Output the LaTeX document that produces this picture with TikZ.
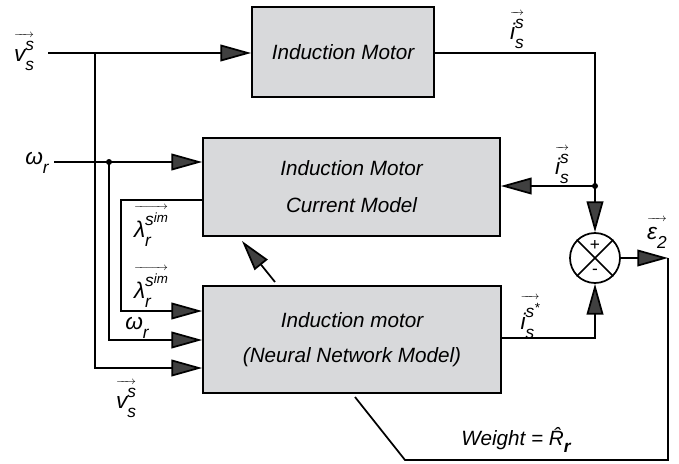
\documentclass[tikz,border=0pt]{standalone}
\usepackage{fontspec}
\setmainfont{Liberation Sans}
\usetikzlibrary{arrows.meta}
\definecolor{boxgray}{RGB}{216,217,219}
\newcommand\lbf{\fontsize{17}{17}\selectfont\itshape}
\newcommand\sfs{\fontsize{13}{13}\selectfont\itshape}
\newcommand\sfss{\fontsize{10}{10}\selectfont\itshape}
\newcommand\supsub[2]{\setbox1\hbox{\sfs #1}\setbox2\hbox{\sfs #2}%
  \dimen0=\wd1 \ifdim\wd2>\dimen0 \dimen0=\wd2\fi
  \hbox to\dimen0{\rlap{\raise0.95ex\copy1}\lower0.75ex\copy2\hss}}
\newcommand\vlab[3]{\setbox3\hbox{\lbf #1\supsub{#2}{#3}}%
  \vbox{\offinterlineskip\hbox to\wd3{\fontsize{8}{8}\selectfont\rightarrowfill}\kern2.5pt\box3}}
\newcommand\plab[2]{\hbox{\lbf #1\supsub{}{#2}}}
\begin{document}
\begin{tikzpicture}[x=0.75pt,y=-0.75pt,
  font=\fontsize{15.5}{18}\selectfont\itshape,
  blk/.style={draw, line width=1.3pt, fill=boxgray, inner sep=0pt, align=center},
  wire/.style={line width=1.3pt},
  arr/.style={wire, -{Triangle[length=23pt,width=12.5pt,fill=black!75]}},
  dotn/.style={circle, fill, inner sep=0pt, minimum size=4.5pt},
  lbl/.style={inner sep=0pt}]
\useasboundingbox (0,0) rectangle (679,464);

% blocks
\node[blk, minimum width=136.5pt, minimum height=67.5pt] (im) at (343,52) {Induction Motor};
\node[blk, minimum width=222.75pt, minimum height=73.5pt, font=\fontsize{15.5}{27.75}\selectfont\itshape] (cm) at (351.5,187) {Induction Motor\\Current Model};
\node[blk, minimum width=223.5pt, minimum height=80.25pt, font=\fontsize{15.5}{26}\selectfont\itshape] (nn) at (352,339.5) {Induction motor\\(Neural Network Model)};
\node[draw, circle, line width=1.3pt, fill=white, minimum size=37.5pt, inner sep=0pt] (sum) at (595,258) {};
\draw[wire] (sum.north west) -- (sum.south east) (sum.north east) -- (sum.south west);
\node[lbl, font=\fontsize{13}{13}\selectfont] (plus) at (595,245) {+};
\node[lbl, font=\fontsize{13}{13}\selectfont] (minus) at (595,272) {-};

% coordinates
\coordinate (vsin) at (48,53);
\coordinate (vsb) at (95,53);
\coordinate (wrin) at (54,162);
\coordinate (wrb) at (109,162);
\coordinate (lamc) at (121,200);
\coordinate (isc) at (595,53);
\coordinate (isb) at (595,186);
\coordinate (ec) at (668,258);
\coordinate (wb) at (668,460);
\coordinate (wl) at (405,460);
\coordinate (we) at (355,397);
\coordinate (da) at (275,282);
\coordinate (db) at (242,241);
\coordinate (yl) at (0,311);
\coordinate (yw) at (0,340);
\coordinate (yv) at (0,368);
\coordinate (yi) at (0,338);

% connectors
\draw[arr] (vsin) -- (im.west|-vsin);
\draw[arr] (vsb) |- (nn.west|-yv);
\draw[arr] (wrin) -- (cm.west|-wrin);
\node[dotn] (wdot) at (wrb) {};
\draw[arr] (wdot.center) |- (nn.west|-yw);
\draw[arr] (cm.west|-lamc) -- (lamc) |- (nn.west|-yl);
\draw[wire] (im.east|-isc) -- (isc) -- (isb);
\node[dotn] (idot) at (isb) {};
\draw[arr] (idot.center) -- (cm.east|-isb);
\draw[arr] (idot.center) -- (sum.north);
\draw[arr] (nn.east|-yi) -| (sum.south);
\draw[arr] (sum.east) -- (ec);
\draw[wire] (ec) -- (wb) -- (wl) -- (we);
\draw[arr] (da) -- (db);

% labels
\node[lbl] (l1) at (24,52) {\vlab{v}{s}{s}};
\node[lbl] (l2) at (37,163) {\plab{ω}{r}};
\node[lbl] (l3) at (151,226) {\vlab{λ}{s\raise0.3ex\hbox{\sfss im}}{r}};
\node[lbl] (l4) at (151,287) {\vlab{λ}{s\raise0.3ex\hbox{\sfss im}}{r}};
\node[lbl] (l5) at (137,328) {\plab{ω}{r}};
\node[lbl] (l6) at (126,399) {\vlab{v}{s}{s}};
\node[lbl] (l7) at (517,30) {\vlab{i}{s}{s}};
\node[lbl] (l8) at (562,165) {\vlab{i}{s}{s}};
\node[lbl] (l9) at (530,317) {\vlab{i}{s\raise0.6ex\hbox{\sfss *}}{s}};
\node[lbl] (l10) at (657,233) {\vlab{ε}{\hbox to 5pt{\vrule width 0pt height 2pt\hfil}}{2}};
\node[lbl] (l11) at (516,440) {Weight = \^{R}\lower0.6ex\hbox{\sfs\bfseries r}};
\end{tikzpicture}
\end{document}
